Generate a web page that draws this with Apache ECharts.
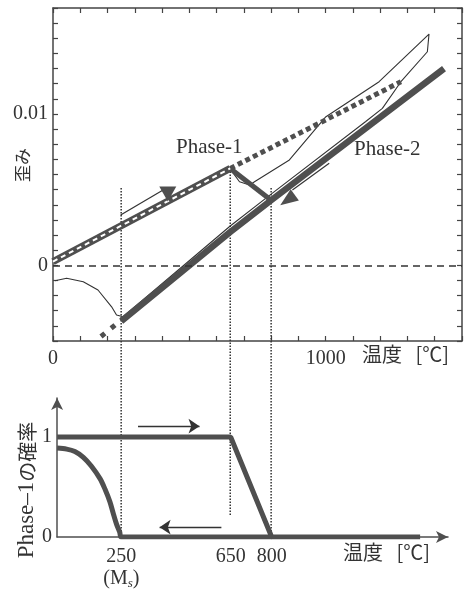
<!DOCTYPE html>
<html>
<head>
<meta charset="utf-8">
<script src="https://cdn.jsdelivr.net/npm/echarts@6/dist/echarts.min.js"></script>
<style>
  html, body { margin: 0; padding: 0; background: #fff; }
  #chart { width: 465px; height: 590px; }
</style>
</head>
<body>
<div id="chart"></div>
<script>
// ---- Upper panel: strain vs temperature ----
const phase1Line = [[0, 0.00025], [650, 0.0064]];
const phase1Extension = [[650, 0.0064], [1276, 0.01213]];
const transitionLine = [[650, 0.0064], [800, 0.0043]];
const phase2Line = [[250, -0.0037], [650, 0.0022], [800, 0.0043], [1434, 0.0130]];
const phase2Extension = [[176, -0.0047], [238, -0.0038]];
const measuredCurve = [
  [7, -0.00102], [50, -0.00086], [111, -0.00108], [165, -0.00163], [215, -0.00274],
  [233, -0.00328], [257, -0.0034], [650, 0.0026], [800, 0.0047], [1147, 0.0095],
  [1208, 0.01037], [1276, 0.01213], [1373, 0.01411], [1379, 0.01528], [1196, 0.01213],
  [1001, 0.00982], [867, 0.00696], [739, 0.00552], [721, 0.0053], [684, 0.00552], [648, 0.0064]
];
const heatingArrow = [[248, 0.00332], [410, 0.00504]];
const heatingHead = [[421, 0.00471]];
const coolingArrow = [[1013, 0.00674], [878, 0.00497]];
const coolingHead = [[860, 0.00431]];
const strainLabels = [0, 0.01];
const tempLabelsTop = [0, 1000];

// ---- Lower panel: probability of Phase-1 ----
const probHeating = [[15, 1], [650, 1], [800, 0], [1343, 0]];
const probCooling = [
  [800, 0], [250, 0], [244, 0.05], [233, 0.124], [220, 0.24], [208, 0.354],
  [190, 0.48], [172, 0.584], [140, 0.71], [111, 0.797], [80, 0.855], [50, 0.879], [15, 0.889]
];
const arrowRight = [[311, 1.108], [536, 1.108]];
const arrowLeft = [[616, 0.098], [390, 0.098]];
const tempLabelsBottom = [250, 650, 800];
const probLabels = [0, 1];

// ---- Guide lines linking both panels ----
const guideX = [250, 650, 800];
const guideTopStrain = [0.0051, 0.0062, 0.0051];
const guideBottomProb = [0, 0.21, 0];

const SERIF = '"Liberation Serif", "Times New Roman", "Noto Sans CJK JP", serif';
const CJK = '"Noto Sans CJK JP", sans-serif';
const INK = '#333';
const GREY = '#4f4f4f';

const chart = echarts.init(document.getElementById('chart'), null, { renderer: 'canvas' });

const boxLine = { show: true, onZero: false, lineStyle: { color: '#444', width: 1.5 } };
const inTick = { show: true, inside: true, length: 5, lineStyle: { color: '#444', width: 1.2 } };

function line(data, opts) {
  return Object.assign({
    type: 'line', data: data, xAxisIndex: 0, yAxisIndex: 0, symbol: 'none',
    silent: true, animation: false, z: 3
  }, opts);
}

const option = {
  animation: false,
  backgroundColor: '#fff',
  grid: [
    { left: 53, top: 8, width: 410, height: 333 },
    { left: 57.1, top: 398, width: 390.9, height: 141.3 }
  ],
  xAxis: [
    {
      type: 'value', gridIndex: 0, min: 0, max: 1500, interval: 100,
      axisLine: boxLine, axisTick: inTick, splitLine: { show: false },
      axisLabel: {
        margin: 8, color: INK, fontFamily: SERIF, fontSize: 20,
        formatter: v => (tempLabelsTop.indexOf(v) >= 0 ? String(v) : '')
      }
    },
    {
      type: 'value', gridIndex: 0, position: 'top', min: 0, max: 1500, interval: 100,
      axisLine: boxLine, axisTick: inTick, splitLine: { show: false }, axisLabel: { show: false }
    },
    {
      type: 'value', gridIndex: 1, min: 15, max: 1445,
      axisLine: { show: true, onZero: false, symbol: ['none', 'arrow'], symbolSize: [9, 12],
        lineStyle: { color: GREY, width: 1.5 } },
      axisTick: { show: false }, splitLine: { show: false },
      axisLabel: {
        customValues: tempLabelsBottom, margin: 9, color: INK, fontFamily: SERIF, fontSize: 20,
        lineHeight: 22,
        formatter: v => (v === 250 ? '250\n{p|(M}{s|s}{p|)}' : String(v)),
        rich: {
          p: { fontFamily: SERIF, fontSize: 20, color: INK, lineHeight: 22 },
          s: { fontFamily: SERIF, fontSize: 13, fontStyle: 'italic', color: INK, lineHeight: 22,
               verticalAlign: 'bottom', padding: [8, 0, 0, 0] }
        }
      }
    }
  ],
  yAxis: [
    {
      type: 'value', gridIndex: 0, min: -0.005, max: 0.017, interval: 0.001,
      axisLine: boxLine, axisTick: inTick, splitLine: { show: false },
      axisLabel: {
        margin: 5, color: INK, fontFamily: SERIF, fontSize: 20,
        formatter: v => {
          for (const s of strainLabels) if (Math.abs(v - s) < 1e-9) return String(s);
          return '';
        }
      }
    },
    {
      type: 'value', gridIndex: 0, position: 'right', min: -0.005, max: 0.017, interval: 0.001,
      axisLine: boxLine, axisTick: inTick, splitLine: { show: false }, axisLabel: { show: false }
    },
    {
      type: 'value', gridIndex: 1, min: 0, max: 1.39,
      axisLine: { show: true, onZero: false, symbol: ['none', 'arrow'], symbolSize: [9, 12],
        lineStyle: { color: GREY, width: 1.5 } },
      axisTick: { show: false }, splitLine: { show: false },
      axisLabel: { customValues: probLabels, margin: 5, color: INK, fontFamily: SERIF, fontSize: 20 }
    }
  ],
  series: [
    // zero strain reference
    line([], {
      markLine: {
        silent: true, symbol: 'none', label: { show: false },
        lineStyle: { color: INK, width: 1.5, type: [7, 5] },
        data: [{ yAxis: 0 }]
      }
    }),
    line(measuredCurve, { lineStyle: { color: INK, width: 1.1 }, z: 2 }),
    line(phase1Extension, { lineStyle: { color: GREY, width: 5, type: [5, 3.5] } }),
    line(phase2Extension, { lineStyle: { color: GREY, width: 5, type: [5, 8] } }),
    line(phase2Line, { lineStyle: { color: GREY, width: 6.5 } }),
    line(transitionLine, { lineStyle: { color: GREY, width: 5 } }),
    line(phase1Line, { lineStyle: { color: GREY, width: 7 } }),
    line(phase1Line, { lineStyle: { color: '#fff', width: 2, type: [5, 4] }, z: 4 }),
    line(heatingArrow, { lineStyle: { color: INK, width: 1.2 } }),
    line(coolingArrow, { lineStyle: { color: INK, width: 1.2 } }),
    {
      type: 'scatter', xAxisIndex: 0, yAxisIndex: 0, data: heatingHead, silent: true,
      symbol: 'triangle', symbolSize: [17, 15], symbolRotate: 180,
      itemStyle: { color: GREY, opacity: 1 }, z: 5
    },
    {
      type: 'scatter', xAxisIndex: 0, yAxisIndex: 0, data: coolingHead, silent: true,
      symbol: 'triangle', symbolSize: [14, 18], symbolRotate: 126,
      itemStyle: { color: GREY, opacity: 1 }, z: 5
    },
    // lower panel
    {
      type: 'line', xAxisIndex: 2, yAxisIndex: 2, data: probHeating, symbol: 'none', silent: true,
      lineStyle: { color: GREY, width: 5 },
      markLine: {
        silent: true, symbol: ['none', 'arrow'], symbolSize: 11, label: { show: false },
        lineStyle: { color: INK, width: 1.3, type: 'solid' },
        data: [
          [{ coord: arrowRight[0] }, { coord: arrowRight[1] }],
          [{ coord: arrowLeft[0] }, { coord: arrowLeft[1] }]
        ]
      }
    },
    {
      type: 'line', xAxisIndex: 2, yAxisIndex: 2, data: probCooling, symbol: 'none', silent: true,
      smooth: 0.3, lineStyle: { color: GREY, width: 5 }
    }
  ]
};

chart.setOption(option);

// texts and guide lines positioned from the axes
const guides = guideX.map((x, i) => {
  const p1 = chart.convertToPixel({ xAxisIndex: 0, yAxisIndex: 0 }, [x, guideTopStrain[i]]);
  const p2 = chart.convertToPixel({ xAxisIndex: 2, yAxisIndex: 2 }, [x, guideBottomProb[i]]);
  const px = chart.convertToPixel({ xAxisIndex: 0 }, x);
  return {
    type: 'line', silent: true, z: 1,
    shape: { x1: px, y1: p1[1], x2: px, y2: p2[1] },
    style: { stroke: INK, lineWidth: 1.5, lineDash: [1.5, 1.5] }
  };
});

chart.setOption({
  graphic: guides.concat([
    { type: 'text', left: 176, top: 137, silent: true,
      style: { text: 'Phase-1', font: '21px ' + SERIF, fill: INK } },
    { type: 'text', left: 354, top: 139, silent: true,
      style: { text: 'Phase-2', font: '21px ' + SERIF, fill: INK } },
    { type: 'text', x: 23, y: 165, rotation: Math.PI / 2, silent: true,
      style: { text: '歪み', font: '17px ' + CJK, fill: INK,
               align: 'center', verticalAlign: 'middle' } },
    { type: 'text', left: 362, top: 344, silent: true,
      style: { text: '温度   [℃]', font: '20px ' + CJK, fill: INK } },
    { type: 'text', left: 343, top: 542, silent: true,
      style: { text: '温度   [℃]', font: '20px ' + CJK, fill: INK } },
    { type: 'text', x: 27, y: 490, rotation: Math.PI / 2, silent: true,
      style: { text: '{a|Phase–1}{b|の確率}', align: 'center', verticalAlign: 'middle',
               rich: {
                 a: { fontFamily: SERIF, fontSize: 23, fill: INK },
                 b: { fontFamily: CJK, fontSize: 20, fill: INK }
               } } }
  ])
});
</script>
</body>
</html>
